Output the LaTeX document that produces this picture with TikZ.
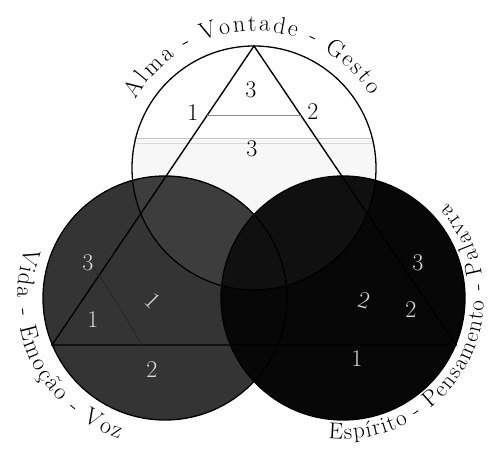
\documentclass[tikz,border=0pt]{standalone}
\usetikzlibrary{decorations.text,calc}
\definecolor{leftgray}{HTML}{343434}
\definecolor{leftover}{HTML}{3D3D3D}
\definecolor{rightblk}{HTML}{070707}
\definecolor{rightover}{HTML}{101010}
\definecolor{digitlight}{HTML}{DCDCDC}
\begin{document}
\begin{tikzpicture}[x=1pt,y=1pt,
  circ/.style={line width=1.3pt, draw=black},
  digit/.style={font=\fontsize{24}{24}\selectfont, inner sep=0pt},
  digitw/.style={digit, text=digitlight},
  tri/.style={line width=1.4pt, draw=black, line join=miter},
  arctext/.style={decorate, decoration={text along path, text align={fit to path}, text={|\fontsize{24}{24}\selectfont|#1}}},
  arctextsm/.style={decorate, decoration={text along path, text align={fit to path}, text={|\fontsize{23}{23}\selectfont|#1}}}]
\useasboundingbox (0,0) rectangle (488,448);
\coordinate (T) at (254,280);
\coordinate (L) at (165,150);
\coordinate (R) at (343,150);
% top circle
\fill[white] (T) circle (122);
\begin{scope}
  \clip (T) circle (122);
  \fill[black!3] (120,0) rectangle (400,310);
  \draw[black!22, line width=0.6pt] (120,310) -- (400,310);
  \draw[black!15, line width=0.6pt] (120,305) -- (400,305);
\end{scope}
% left circle
\fill[leftgray] (L) circle (122);
\begin{scope}
  \clip (L) circle (122);
  \fill[leftover] (T) circle (122);
\end{scope}
% right circle
\fill[rightblk] (R) circle (122);
\begin{scope}
  \clip (R) circle (122);
  \fill[rightover] (T) circle (122);
\end{scope}
% outlines
\draw[circ] (T) circle (122);
\draw[circ] (L) circle (122);
\draw[circ] (R) circle (122);
% triangle
\coordinate (apex) at (254,402);
\coordinate (bl) at (52,103);
\coordinate (br) at (456,103);
\draw[tri] (apex) -- (bl) -- (br) -- cycle;
\draw[black!45, line width=0.8pt] ($(apex)!0.231!(bl)$) -- ($(apex)!0.231!(br)$);
\coordinate (s1) at (88,188);
\coordinate (s2) at (142,103);
\draw[black!85, line width=0.8pt] (s1) .. controls (108,160) .. (s2);
% texts along arcs
\path[arctext={Alma - Vontade - Gesto}] ($(T)+(150:137)$) arc[start angle=150, end angle=32, radius=137];
\path[arctext={Vida - Emoção - Voz}] ($(L)+(160:148)$) arc[start angle=160, end angle=252, radius=148];
\path[arctextsm={Espírito - Pensamento - Palavra}] ($(R)+(264:141)$) arc[start angle=264, end angle=402, radius=141];
% digits top circle
\node[digit] (t3a) at (251,358) {3};
\node[digit] (t1) at (193,335) {1};
\node[digit] (t2) at (313,336) {2};
\node[digit] (t3b) at (252,299) {3};
% digits left circle
\node[digitw] (l3) at (88,185) {3};
\node[digitw] (l1) at (93,128) {1};
\node[digitw, rotate=-45] (l1b) at (153,147) {1};
\node[digitw] (l2) at (152,78) {2};
% digits right circle
\node[digitw] (r3) at (418,185) {3};
\node[digitw, rotate=-15] (r2a) at (364,148) {2};
\node[digitw] (r2b) at (411,138) {2};
\node[digitw] (r1) at (357,89) {1};
\end{tikzpicture}
\end{document}
